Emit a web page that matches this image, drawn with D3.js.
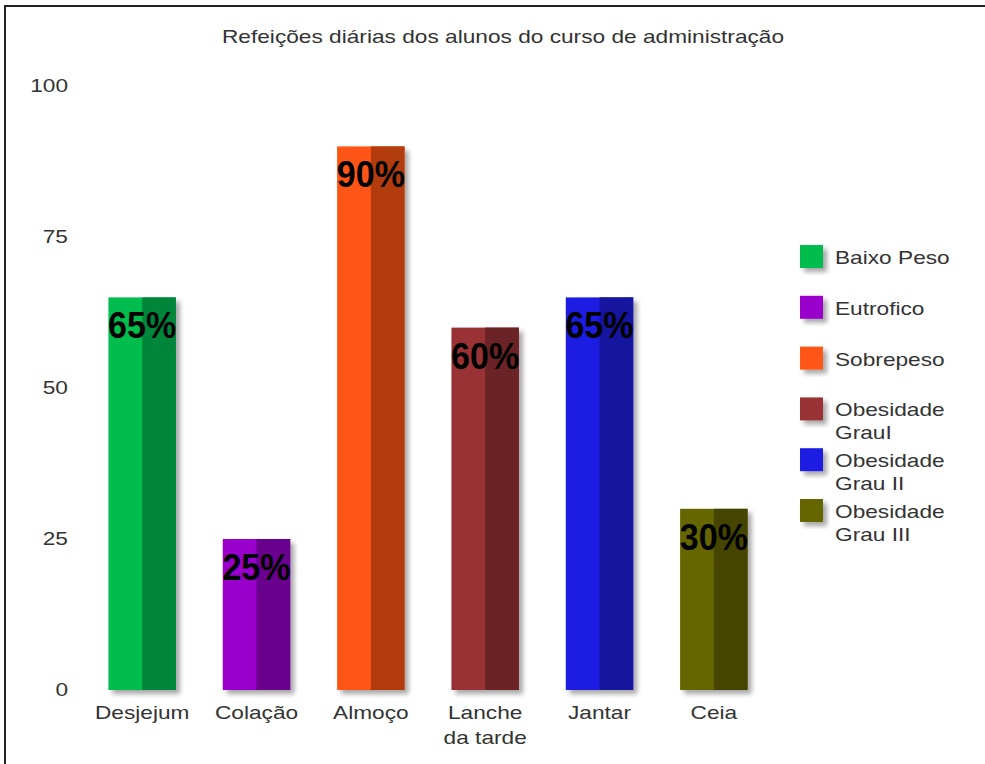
<!DOCTYPE html>
<meta charset="utf-8">
<style>
body { margin:0; background:#fff; }
text { font-family: "Liberation Sans", Arial, Helvetica, sans-serif; }
.lbl { fill:#333; font-size:18px; }
.pct { fill:#000; font-size:37px; font-weight:bold; text-anchor:middle; }
</style>
<svg width="985" height="764"></svg>
<script src="https://d3js.org/d3.v7.min.js"></script>
<script>

var categories = ["Desjejum", "Colação", "Almoço", "Lanche\nda tarde", "Jantar", "Ceia"];
var values = [65, 25, 90, 60, 65, 30];
var series = ["Baixo Peso", "Eutrofico", "Sobrepeso", "Obesidade\nGrauI", "Obesidade\nGrau II", "Obesidade\nGrau III"];
var lightColors = ["#00bd4e", "#9900cc", "#ff5414", "#993236", "#1e1ee3", "#666600"];
var darkColors = ["#00863a", "#69008e", "#b33c0e", "#6b2326", "#15159e", "#454500"];
var yTicks = [0, 25, 50, 75, 100];
var title = "Refeições diárias dos alunos do curso de administração";

var svg = d3.select("svg"),
    sx = 1.26; // the original text is stretched sideways

// frame
svg.append("path")
    .attr("d", "M5,764V6H985")
    .attr("fill", "none")
    .attr("stroke", "#222")
    .attr("stroke-width", 2);

var defs = svg.append("defs");
var f = defs.append("filter").attr("id", "shadow")
    .attr("x", "-20%").attr("y", "-20%").attr("width", "150%").attr("height", "150%");
f.append("feGaussianBlur").attr("in", "SourceAlpha").attr("stdDeviation", 2.5);
f.append("feOffset").attr("dx", 4).attr("dy", 4).attr("result", "off");
f.append("feComponentTransfer").append("feFuncA").attr("type", "linear").attr("slope", 0.35);
var m = f.append("feMerge");
m.append("feMergeNode");
m.append("feMergeNode").attr("in", "SourceGraphic");

var x = d3.scaleBand()
    .domain(categories)
    .range([85, 771])
    .paddingInner(0.41)
    .paddingOuter(0.205);

var y = d3.scaleLinear()
    .domain([0, 100])
    .range([690, 86]);

function stretched(sel, px, py, k) {
  return sel.attr("transform", "translate(" + px + "," + py + ") scale(" + (k || sx) + ",1)");
}

// title
stretched(svg.append("text"), 503, 43)
    .attr("class", "lbl")
    .attr("text-anchor", "middle")
    .text(title);

// y axis labels
svg.selectAll(".ytick")
  .data(yTicks)
  .enter().append("text")
    .attr("class", "lbl ytick")
    .attr("text-anchor", "end")
    .attr("dy", "0.35em")
    .each(function(d) { stretched(d3.select(this), 68, y(d)); })
    .text(function(d) { return d; });

// bars
var bar = svg.selectAll(".bar")
  .data(categories)
  .enter().append("g")
    .attr("class", "bar");

bar.append("rect")
    .attr("x", function(d) { return x(d); })
    .attr("y", function(d, i) { return y(values[i]); })
    .attr("width", x.bandwidth())
    .attr("height", function(d, i) { return y(0) - y(values[i]); })
    .attr("fill", function(d, i) { return lightColors[i]; })
    .attr("filter", "url(#shadow)");

bar.append("rect")
    .attr("x", function(d) { return x(d) + x.bandwidth() / 2; })
    .attr("y", function(d, i) { return y(values[i]); })
    .attr("width", x.bandwidth() / 2)
    .attr("height", function(d, i) { return y(0) - y(values[i]); })
    .attr("fill", function(d, i) { return darkColors[i]; });

bar.each(function(d, i) {
  stretched(d3.select(this).append("text"), x(d) + x.bandwidth() / 2, y(values[i]) + 41, 0.92)
      .attr("class", "pct")
      .text(values[i] + "%");
});

// category labels
bar.each(function(d) {
  var g = d3.select(this);
  d.split("\n").forEach(function(line, k) {
    stretched(g.append("text"), x(d) + x.bandwidth() / 2, 719 + k * 25)
        .attr("class", "lbl")
        .attr("text-anchor", "middle")
        .text(line);
  });
});

// legend
var ly = d3.scaleLinear().domain([0, series.length - 1]).range([245, 499]);

var item = svg.selectAll(".legend")
  .data(series)
  .enter().append("g")
    .attr("class", "legend");

item.append("rect")
    .attr("x", 800)
    .attr("y", function(d, i) { return ly(i); })
    .attr("width", 23)
    .attr("height", 23)
    .attr("fill", function(d, i) { return lightColors[i]; })
    .attr("filter", "url(#shadow)");

item.each(function(d, i) {
  var g = d3.select(this);
  d.split("\n").forEach(function(line, k) {
    stretched(g.append("text"), 835, ly(i) + 19 + k * 23)
        .attr("class", "lbl")
        .text(line);
  });
});

</script>
